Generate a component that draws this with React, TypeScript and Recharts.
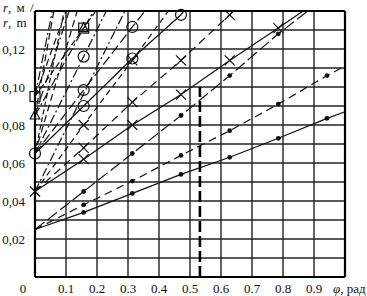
import React from 'react';
import { LineChart, Line, XAxis, YAxis, CartesianGrid, ReferenceLine } from 'recharts';

type Pt = [number, number, number];

// [phi (rad), r (m), marker shown (1/0)]
const dotsSolidLow: Pt[] = [[0, 0.025, 0], [0.157, 0.034, 1], [0.314, 0.044, 1], [0.471, 0.054, 1], [0.628, 0.063, 1], [0.785, 0.073, 1], [0.942, 0.0835, 1], [1, 0.087, 0]];
const dotsDashMid: Pt[] = [[0, 0.025, 0], [0.157, 0.038, 1], [0.314, 0.0505, 1], [0.471, 0.064, 1], [0.628, 0.077, 1], [0.785, 0.091, 1], [0.942, 0.106, 1], [1, 0.111, 0]];
const dotsDashHigh: Pt[] = [[0, 0.025, 0], [0.157, 0.045, 1], [0.314, 0.065, 1], [0.471, 0.085, 1], [0.628, 0.106, 1], [0.785, 0.128, 1], [0.88, 0.14, 0]];
const crossSolid: Pt[] = [[0, 0.045, 1], [0.157, 0.062, 1], [0.314, 0.08, 1], [0.471, 0.096, 1], [0.628, 0.114, 1], [0.785, 0.131, 1], [0.865, 0.14, 0]];
const crossDashA: Pt[] = [[0, 0.045, 0], [0.157, 0.068, 1], [0.314, 0.092, 1], [0.471, 0.114, 1], [0.628, 0.138, 1], [0.64, 0.14, 0]];
const crossDashB: Pt[] = [[0, 0.045, 0], [0.157, 0.08, 1], [0.314, 0.114, 1], [0.43, 0.14, 0]];
const circleSolid: Pt[] = [[0, 0.065, 1], [0.157, 0.09, 1], [0.314, 0.115, 1], [0.471, 0.138, 1], [0.48, 0.14, 0]];
const circleDash: Pt[] = [[0, 0.065, 0], [0.157, 0.0984, 1], [0.314, 0.1316, 1], [0.355, 0.14, 0]];
const circleDashDot: Pt[] = [[0, 0.065, 0], [0.157, 0.116, 1], [0.23, 0.14, 0]];
const triangleLine: Pt[] = [[0, 0.085, 1], [0.157, 0.131, 1], [0.19, 0.14, 0]];
const squareLine: Pt[] = [[0, 0.095, 1], [0.157, 0.131, 1], [0.196, 0.14, 0]];
const extraA: Pt[] = [[0, 0.045, 0], [0.29, 0.14, 0]];
const extraB: Pt[] = [[0, 0.065, 0], [0.136, 0.14, 0]];
const extraC: Pt[] = [[0, 0.085, 0], [0.11, 0.14, 0]];
const extraD: Pt[] = [[0, 0.085, 0], [0.061, 0.14, 0]];
const extraE: Pt[] = [[0, 0.095, 0], [0.1, 0.14, 0]];
const extraF: Pt[] = [[0, 0.095, 0], [0.056, 0.14, 0]];
const extraG: Pt[] = [[0, 0.065, 0], [0.094, 0.14, 0]];

const xTicks = [0, 0.1, 0.2, 0.3, 0.4, 0.5, 0.6, 0.7, 0.8, 0.9, 1];
const xTickLabels = ['0', '0.1', '0.2', '0.3', '0.4', '0.5', '0.6', '0.7', '0.8', '0.9', ''];
const yTicks = [0, 0.01, 0.02, 0.03, 0.04, 0.05, 0.06, 0.07, 0.08, 0.09, 0.1, 0.11, 0.12, 0.13, 0.14];
const yTickLabels = ['', '', '0,02', '', '0,04', '', '0,06', '', '0,08', '', '0,10', '', '0,12', '', ''];
const cutPhi = 0.532;
const cutTop = 0.1;

const FONT = '"Liberation Serif", "DejaVu Serif", serif';
const INK = '#111';

const toRows = (pts: Pt[]) => pts.map(([phi, r, m]) => ({ phi, r, m }));

type Kind = 'dot' | 'x' | 'o' | 'tri' | 'sq' | 'none';

const makeDot = (kind: Kind, id: string) => (props: any) => {
  const { cx, cy, payload, index } = props;
  const key = `${id}-${index}`;
  if (!payload || !payload.m || kind === 'none' || cx == null || cy == null) return <g key={key} />;
  if (kind === 'dot') return <circle key={key} cx={cx} cy={cy} r={2.4} fill={INK} />;
  if (kind === 'x')
    return (
      <g key={key} stroke={INK} strokeWidth={1.2}>
        <line x1={cx - 5} y1={cy - 5} x2={cx + 5} y2={cy + 5} />
        <line x1={cx - 5} y1={cy + 5} x2={cx + 5} y2={cy - 5} />
      </g>
    );
  if (kind === 'o') return <circle key={key} cx={cx} cy={cy} r={5.5} fill="none" stroke={INK} strokeWidth={1.2} />;
  if (kind === 'sq') return <rect key={key} x={cx - 5} y={cy - 5} width={10} height={10} fill="none" stroke={INK} strokeWidth={1.2} />;
  return (
    <polygon key={key} points={`${cx},${cy - 5.5} ${cx - 4.8},${cy + 3.5} ${cx + 4.8},${cy + 3.5}`} fill="none" stroke={INK} strokeWidth={1.2} />
  );
};

const series: { id: string; pts: Pt[]; dash?: string; kind: Kind }[] = [
  { id: 's1', pts: dotsSolidLow, kind: 'dot' },
  { id: 's2', pts: dotsDashMid, dash: '8 5', kind: 'dot' },
  { id: 's3', pts: dotsDashHigh, dash: '12 4', kind: 'dot' },
  { id: 'xa', pts: crossSolid, kind: 'x' },
  { id: 'xc', pts: crossDashA, dash: '8 5', kind: 'x' },
  { id: 'xb', pts: crossDashB, dash: '6 4', kind: 'x' },
  { id: 'ca', pts: circleSolid, kind: 'o' },
  { id: 'cb', pts: circleDash, dash: '10 4', kind: 'o' },
  { id: 'cc', pts: circleDashDot, dash: '9 3 2 3', kind: 'o' },
  { id: 'tr', pts: triangleLine, dash: '9 3 2 3', kind: 'tri' },
  { id: 'sq', pts: squareLine, dash: '6 3', kind: 'sq' },
  { id: 'ea', pts: extraA, dash: '9 3 2 3', kind: 'none' },
  { id: 'eb', pts: extraB, dash: '7 4', kind: 'none' },
  { id: 'ec', pts: extraC, dash: '9 3 2 3', kind: 'none' },
  { id: 'ed', pts: extraD, dash: '7 4', kind: 'none' },
  { id: 'ee', pts: extraE, dash: '7 4', kind: 'none' },
  { id: 'ef', pts: extraF, dash: '9 3 2 3', kind: 'none' },
  { id: 'eg', pts: extraG, dash: '5 3', kind: 'none' },
];

const XTick = (props: any) => {
  const { x, y, payload } = props;
  const i = xTicks.findIndex((t) => Math.abs(t - payload.value) < 1e-6);
  if (i === xTicks.length - 1) {
    return (
      <text x={x - 12} y={y + 16} textAnchor="start" fontFamily={FONT} fontSize={13} fill={INK}>
        <tspan fontStyle="italic">φ</tspan>, рад
      </text>
    );
  }
  const label = i >= 0 ? xTickLabels[i] : '';
  const dx = i === 0 ? -12 : 0;
  return (
    <text x={x + dx} y={y + 16} textAnchor="middle" fontFamily={FONT} fontSize={13} fill={INK}>
      {label}
    </text>
  );
};

const YTick = (props: any) => {
  const { x, y, payload } = props;
  const i = yTicks.findIndex((t) => Math.abs(t - payload.value) < 1e-6);
  const label = i >= 0 ? yTickLabels[i] : '';
  if (!label) return <g />;
  return (
    <text x={x - 10} y={y + 4.5} textAnchor="end" fontFamily={FONT} fontSize={13} fill={INK}>
      {label}
    </text>
  );
};

export default function App() {
  return (
    <div style={{ position: 'absolute', left: 0, top: 0, width: 367, height: 296, background: '#fff', overflow: 'hidden' }}>
      <LineChart width={367} height={296} margin={{ top: 11, right: 22, left: 0, bottom: 0 }}>
        <CartesianGrid stroke="#222" strokeWidth={1.4} />
        <XAxis
          dataKey="phi"
          type="number"
          domain={[0, 1]}
          ticks={xTicks}
          interval={0}
          height={19}
          tickSize={0}
          tickMargin={0}
          tickLine={false}
          axisLine={{ stroke: '#000', strokeWidth: 2.2 }}
          tick={<XTick />}
          allowDuplicatedCategory={false}
        />
        <YAxis
          dataKey="r"
          type="number"
          domain={[0, 0.14]}
          ticks={yTicks}
          interval={0}
          width={35}
          tickSize={0}
          tickMargin={0}
          tickLine={false}
          axisLine={{ stroke: '#000', strokeWidth: 2.2 }}
          tick={<YTick />}
        />
        <ReferenceLine y={0.14} stroke="#000" strokeWidth={2.2} />
        <ReferenceLine x={1} stroke="#000" strokeWidth={2.2} />
        <ReferenceLine
          segment={[{ x: cutPhi, y: 0 }, { x: cutPhi, y: cutTop }]}
          stroke="#000"
          strokeWidth={2.6}
          strokeDasharray="11 4"
        />
        {series.map((s) => (
          <Line
            key={s.id}
            data={toRows(s.pts)}
            dataKey="r"
            type="linear"
            stroke={INK}
            strokeWidth={1.2}
            strokeDasharray={s.dash}
            dot={makeDot(s.kind, s.id)}
            activeDot={false}
            isAnimationActive={false}
          />
        ))}
      </LineChart>
      <div style={{ position: 'absolute', left: 3, top: 1, fontFamily: FONT, fontSize: 13, lineHeight: '13px', color: INK, whiteSpace: 'nowrap', wordSpacing: 2 }}>
        <i>r</i>, м /
      </div>
      <div style={{ position: 'absolute', left: 3, top: 16, fontFamily: FONT, fontSize: 13, lineHeight: '13px', color: INK, whiteSpace: 'nowrap', wordSpacing: 2 }}>
        <i>r</i>, m
      </div>
    </div>
  );
}
